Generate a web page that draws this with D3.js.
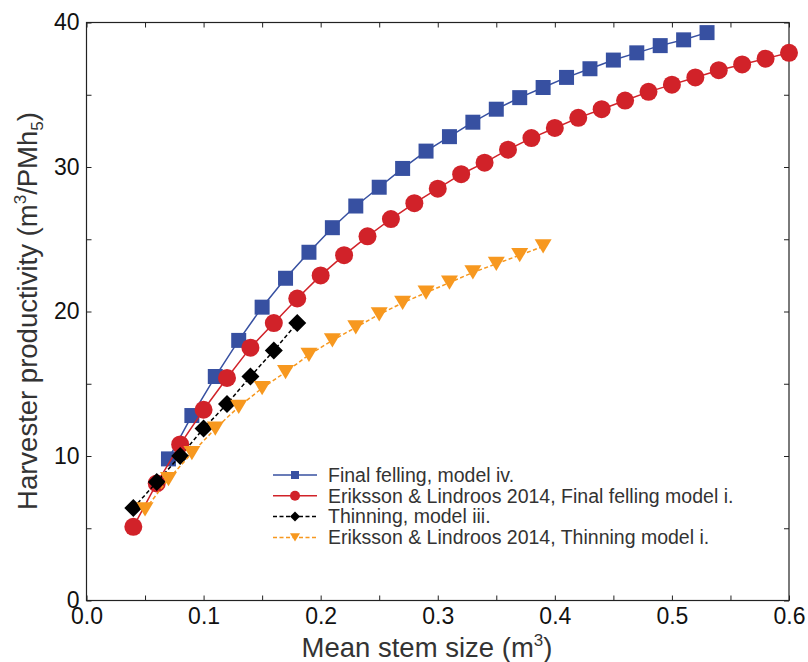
<!DOCTYPE html>
<html>
<head>
<meta charset="utf-8">
<script src="https://cdn.jsdelivr.net/npm/d3@7"></script>
<style>
  body { margin: 0; background: #fff; }
  svg { font-family: "Liberation Sans", Arial, sans-serif; }
  .axis path { stroke: #222; stroke-width: 1.2; }
  .axis line { stroke: #222; stroke-width: 1; }
  .axis text { font-size: 23px; fill: #111; font-family: "Liberation Sans", Arial, sans-serif; }
</style>
</head>
<body>
<svg width="808" height="662"></svg>
<script>
// series data (x = mean stem size m3, y = productivity m3/PMh5)
var ffX = [0.07, 0.09, 0.11, 0.13, 0.15, 0.17, 0.19, 0.21, 0.23, 0.25, 0.27, 0.29, 0.31, 0.33, 0.35, 0.37, 0.39, 0.41, 0.43, 0.45, 0.47, 0.49, 0.51, 0.53];
var ffY = [9.8, 12.8, 15.5, 18.0, 20.3, 22.3, 24.1, 25.8, 27.3, 28.6, 29.9, 31.1, 32.1, 33.1, 34.0, 34.8, 35.5, 36.2, 36.8, 37.4, 37.9, 38.4, 38.8, 39.3];

var elFfX = [0.04, 0.06, 0.08, 0.10, 0.12, 0.14, 0.16, 0.18, 0.20, 0.22, 0.24, 0.26, 0.28, 0.30, 0.32, 0.34, 0.36, 0.38, 0.40, 0.42, 0.44, 0.46, 0.48, 0.50, 0.52, 0.54, 0.56, 0.58, 0.60];
var elFfY = [5.1, 8.1, 10.8, 13.2, 15.4, 17.5, 19.2, 20.9, 22.5, 23.9, 25.2, 26.4, 27.5, 28.5, 29.5, 30.3, 31.2, 32.0, 32.7, 33.4, 34.0, 34.6, 35.2, 35.7, 36.2, 36.7, 37.1, 37.5, 37.9];

var thX = [0.04, 0.06, 0.08, 0.10, 0.12, 0.14, 0.16, 0.18];
var thY = [6.4, 8.2, 10.0, 11.9, 13.6, 15.5, 17.3, 19.2];

var elThX = [0.05, 0.07, 0.09, 0.11, 0.13, 0.15, 0.17, 0.19, 0.21, 0.23, 0.25, 0.27, 0.29, 0.31, 0.33, 0.35, 0.37, 0.39];
var elThY = [6.3, 8.4, 10.2, 11.9, 13.4, 14.7, 15.8, 17.0, 18.0, 18.9, 19.8, 20.6, 21.3, 22.0, 22.7, 23.3, 23.9, 24.5];

var seriesNames = ["Final felling, model iv.",
                   "Eriksson & Lindroos 2014, Final felling model i.",
                   "Thinning, model iii.",
                   "Eriksson & Lindroos 2014, Thinning model i."];

var xTicks = [0.0, 0.1, 0.2, 0.3, 0.4, 0.5, 0.6];
var xMinor = [0.05, 0.15, 0.25, 0.35, 0.45, 0.55];
var yTicks = [0, 10, 20, 30, 40];
var yMinor = [5, 15, 25, 35];

var svg = d3.select("svg");

var x = d3.scaleLinear().domain([0, 0.6]).range([86.5, 789]);
var y = d3.scaleLinear().domain([0, 40]).range([600.5, 22.5]);

var series = [
    {name: seriesNames[0], xs: ffX, ys: ffY, color: "#3750a1", dash: null, shape: "square"},
    {name: seriesNames[1], xs: elFfX, ys: elFfY, color: "#d12229", dash: null, shape: "circle"},
    {name: seriesNames[2], xs: thX, ys: thY, color: "#000000", dash: "4,2.5", shape: "diamond"},
    {name: seriesNames[3], xs: elThX, ys: elThY, color: "#f7981f", dash: "4,2.5", shape: "triangle"}
];

// marker path centered on 0,0 ; s = overall size
function markerPath(shape, s) {
    var h = s / 2;
    if (shape == "square") return "M" + (-h) + "," + (-h) + "h" + s + "v" + s + "h" + (-s) + "Z";
    if (shape == "circle") return "M" + (-h) + ",0a" + h + "," + h + " 0 1,0 " + s + ",0a" + h + "," + h + " 0 1,0 " + (-s) + ",0Z";
    if (shape == "diamond") return "M0," + (-h) + "L" + h + ",0L0," + h + "L" + (-h) + ",0Z";
    // downward triangle, bbox centered
    var th = s * 0.84 / 2;
    return "M" + (-h) + "," + (-th) + "L" + h + "," + (-th) + "L0," + th + "Z";
}
var markerSize = {square: 15, circle: 18, diamond: 18, triangle: 17};
var legendSize = {square: 8, circle: 10, diamond: 10, triangle: 10};

// axes: ticks pointing inward, on all four sides
function drawAxis(axisFn, major, minor, transform, labels, fmt) {
    var g = svg.append("g").attr("class", "axis").attr("transform", transform);
    g.call(axisFn.tickValues(major.concat(minor)).tickSize(-5).tickPadding(7)
        .tickFormat(function(d) { return (labels && major.indexOf(d) >= 0) ? fmt(d) : ""; }));
    g.select(".domain").attr("d", null);
    return g;
}
drawAxis(d3.axisBottom(x), xTicks, xMinor, "translate(0," + y(0) + ")", true, d3.format(".1f"));
drawAxis(d3.axisTop(x), xTicks, xMinor, "translate(0," + y(40) + ")", false);
drawAxis(d3.axisLeft(y), yTicks, yMinor, "translate(" + x(0) + ",0)", true, d3.format("d"));
drawAxis(d3.axisRight(y), yTicks, yMinor, "translate(" + x(0.6) + ",0)", false);

svg.append("rect")
    .attr("x", x(0)).attr("y", y(40))
    .attr("width", x(0.6) - x(0)).attr("height", y(0) - y(40))
    .attr("fill", "none").attr("stroke", "#222").attr("stroke-width", 1.2);

// series
var line = d3.line()
    .x(function(d) { return x(d[0]); })
    .y(function(d) { return y(d[1]); });

series.forEach(function(s) {
    var pts = s.xs.map(function(v, i) { return [v, s.ys[i]]; });
    var g = svg.append("g");
    g.append("path")
        .datum(pts)
        .attr("d", line)
        .attr("fill", "none")
        .attr("stroke", s.color)
        .attr("stroke-width", 1.5)
        .attr("stroke-dasharray", s.dash);
    g.selectAll(".pt")
        .data(pts)
      .enter().append("path")
        .attr("class", "pt")
        .attr("transform", function(d) { return "translate(" + x(d[0]) + "," + y(d[1]) + ")"; })
        .attr("d", markerPath(s.shape, markerSize[s.shape]))
        .attr("fill", s.color);
});

// legend
var legend = svg.append("g").attr("transform", "translate(273,475)");
series.forEach(function(s, i) {
    var row = legend.append("g").attr("transform", "translate(0," + (i * 20.8) + ")");
    row.append("line")
        .attr("x1", 0).attr("x2", 44)
        .attr("stroke", s.color).attr("stroke-width", 1.5)
        .attr("stroke-dasharray", s.dash);
    row.append("path")
        .attr("transform", "translate(22,0)")
        .attr("d", markerPath(s.shape, legendSize[s.shape]))
        .attr("fill", s.color);
    row.append("text")
        .attr("x", 55).attr("dy", "0.35em")
        .style("font-size", "19.5px").attr("fill", "#333")
        .text(s.name);
});

// axis titles
var xt = svg.append("text")
    .attr("x", 427).attr("y", 657)
    .attr("text-anchor", "middle")
    .style("font-size", "27.5px").attr("fill", "#333");
xt.append("tspan").text("Mean stem size (m");
xt.append("tspan").attr("dy", -11).style("font-size", "17px").text("3");
xt.append("tspan").attr("dy", 11).text(")");

var yt = svg.append("text")
    .attr("transform", "translate(37,311) rotate(-90)")
    .attr("text-anchor", "middle")
    .style("font-size", "27.5px").attr("fill", "#333");
yt.append("tspan").text("Harvester productivity (m");
yt.append("tspan").attr("dy", -11).style("font-size", "17px").text("3");
yt.append("tspan").attr("dy", 11).text("/PMh");
yt.append("tspan").attr("dy", 6).style("font-size", "17px").text("5");
yt.append("tspan").attr("dy", -6).text(")");
</script>
</body>
</html>
